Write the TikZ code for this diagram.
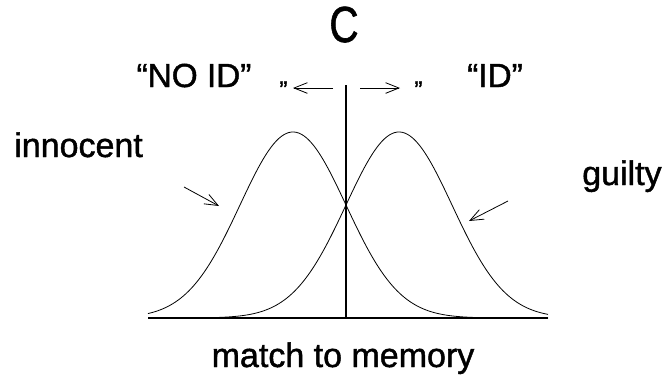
\documentclass[tikz,border=0pt]{standalone}
\usepackage{fontspec}
\setmainfont[FakeBold=1.3]{Liberation Sans}
\usetikzlibrary{arrows.meta}
\begin{document}
\begin{tikzpicture}[x=0.75pt,y=-0.75pt,
  lbl/.style={inner sep=0pt,anchor=base,font=\fontsize{25.5}{30}\selectfont},
  qlbl/.style={inner sep=0pt,anchor=base,font=\fontsize{25}{30}\selectfont},
  smallq/.style={inner sep=0pt,anchor=base,font=\fontsize{18}{20}\selectfont},
  curve/.style={line width=0.6pt},
  pointer/.style={line width=0.6pt,-{Straight Barb[length=10pt,width=8pt]}}]
\useasboundingbox (0,0) rectangle (671,379);
% baseline and criterion
\coordinate (bl) at (148,318);
\coordinate (br) at (548,318);
\coordinate (vt) at (346,85);
\coordinate (vb) at (346,318);
\draw[line width=0.8pt] (bl) -- (br);
\draw[line width=1.1pt] (vt) -- (vb);
% distributions
\draw[curve] plot[domain=148:548,samples=160,smooth] (\x,{318-186*exp(-(((\x-293)/75.07)^2))});
\draw[curve] plot[domain=148:548,samples=160,smooth] (\x,{318-186*exp(-(((\x-399)/75.07)^2))});
% labels
\node[inner sep=0pt,anchor=base,font=\fontsize{38}{42}\selectfont] (c) at (344,42) {\scalebox{0.8}[1]{C}};
\node[qlbl] (noid) at (194,87) {“NO ID”};
\node[qlbl] (id) at (495,87) {“ID”};
\node[smallq] (ql) at (283.5,98) {"};
\node[smallq] (qr) at (418.5,98) {"};
\node[lbl,anchor=base west] (inn) at (14,157) {innocent};
\node[lbl,anchor=base west] (gui) at (582,185) {guilty};
\node[lbl] (mm) at (343,367) {match to memory};
% arrows
\coordinate (la1) at (333,88);
\coordinate (la2) at (293,88);
\coordinate (ra1) at (360,88);
\coordinate (ra2) at (400,88);
\draw[pointer] (la1) -- (la2);
\draw[pointer] (ra1) -- (ra2);
\coordinate (ia1) at (184,187);
\coordinate (ia2) at (219,206);
\coordinate (ga1) at (508,201);
\coordinate (ga2) at (469,221);
\draw[pointer] (ia1) -- (ia2);
\draw[pointer] (ga1) -- (ga2);
\end{tikzpicture}
\end{document}
